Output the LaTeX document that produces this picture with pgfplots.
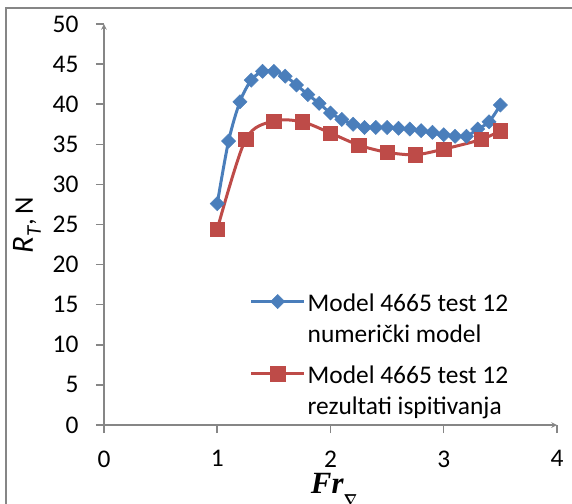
\documentclass[border=0pt]{standalone}
\usepackage{amsmath}
\usepackage{pgfplots}
\pgfplotsset{compat=1.18}
\usepackage{pgfplotstable}
\usepackage{fontspec}
\setmainfont{Carlito}
\newfontfamily\seriffont{Liberation Serif}
\definecolor{serblue}{RGB}{74,126,187}
\definecolor{serred}{RGB}{190,75,72}
\definecolor{axgray}{RGB}{134,134,134}

% numericki model
\pgfplotstableread{
x y
1.0 27.6
1.1 35.4
1.2 40.3
1.3 43.0
1.4 44.1
1.5 44.1
1.6 43.5
1.7 42.4
1.8 41.2
1.9 40.1
2.0 38.9
2.1 38.1
2.2 37.5
2.3 37.1
2.4 37.1
2.5 37.1
2.6 37.0
2.7 36.9
2.8 36.7
2.9 36.5
3.0 36.2
3.1 36.0
3.2 36.0
3.3 36.9
3.4 37.8
3.5 39.9
}\numericki

% rezultati ispitivanja
\pgfplotstableread{
x y
1.0 24.4
1.25 35.6
1.5 37.9
1.75 37.8
2.0 36.4
2.25 34.9
2.5 34.0
2.75 33.7
3.0 34.4
3.33 35.6
3.5 36.7
}\ispitivanja

\begin{document}
\begin{tikzpicture}
\begin{axis}[
  at={(0,0)}, anchor=south west,
  scale only axis, width=453bp, height=401bp,
  xmin=0, xmax=4, ymin=0, ymax=50,
  xtick={0,1,2,3,4}, ytick={0,5,...,50},
  axis x line=bottom, axis y line=left,
  axis line style={axgray, line width=1.5bp},
  tick style={axgray, line width=1.5bp},
  tick align=outside, major tick length=8bp,
  /pgf/number format/assume math mode=true,
  tick label style={font=\fontsize{25.5}{30}\selectfont},
  xticklabel style={yshift=-14bp},
  yticklabel style={xshift=-14bp},
  xlabel={{\seriffont\bfseries\itshape Fr}\raisebox{-11bp}{\fontsize{15}{17}\selectfont$\boldsymbol{\nabla}$}},
  xlabel style={font=\fontsize{31}{34}\selectfont, at={(axis description cs:0.508,-0.1696)}, anchor=base},
  ylabel={{\fontsize{31}{34}\selectfont\textit{R}}\raisebox{-0.3em}{\fontsize{21}{24}\selectfont\textit{T}},\,N},
  ylabel style={font=\fontsize{27}{30}\selectfont, at={(axis description cs:-0.170,0.499)}, anchor=center},
  legend style={draw=none, fill=none, at={(axis description cs:0.3146,0.347)}, anchor=north west,
    font=\fontsize{25.5}{31}\selectfont, row sep=45bp},
  legend cell align=left,
  legend image code/.code={\draw[mark repeat=2,mark phase=2] plot coordinates {(0cm,0cm) (0.935cm,0cm) (1.87cm,0cm)};},
]
\addplot[serblue, line width=3bp, smooth, mark=square*, mark size=5bp, mark options={rotate=45, fill=serblue, draw=serblue, line width=0.5bp}] table {\numericki};
\addlegendentry{\begin{tabular}[t]{@{}l@{}}Model 4665 test 12\\numerički model\end{tabular}}
\addplot[serred, line width=3bp, smooth, mark=square*, mark size=7.2bp, mark options={fill=serred, draw=serred, line width=0.5bp}] table {\ispitivanja};
\addlegendentry{\begin{tabular}[t]{@{}l@{}}Model 4665 test 12\\rezultati ispitivanja\end{tabular}}
\end{axis}
\draw[axgray, line width=2bp] (-97.7bp,-79bp) -- (-97.7bp,417.2bp) -- (468bp,417.2bp);
\pgfresetboundingbox
\path (-104bp,-79bp) rectangle (468bp,425bp);
\end{tikzpicture}
\end{document}
